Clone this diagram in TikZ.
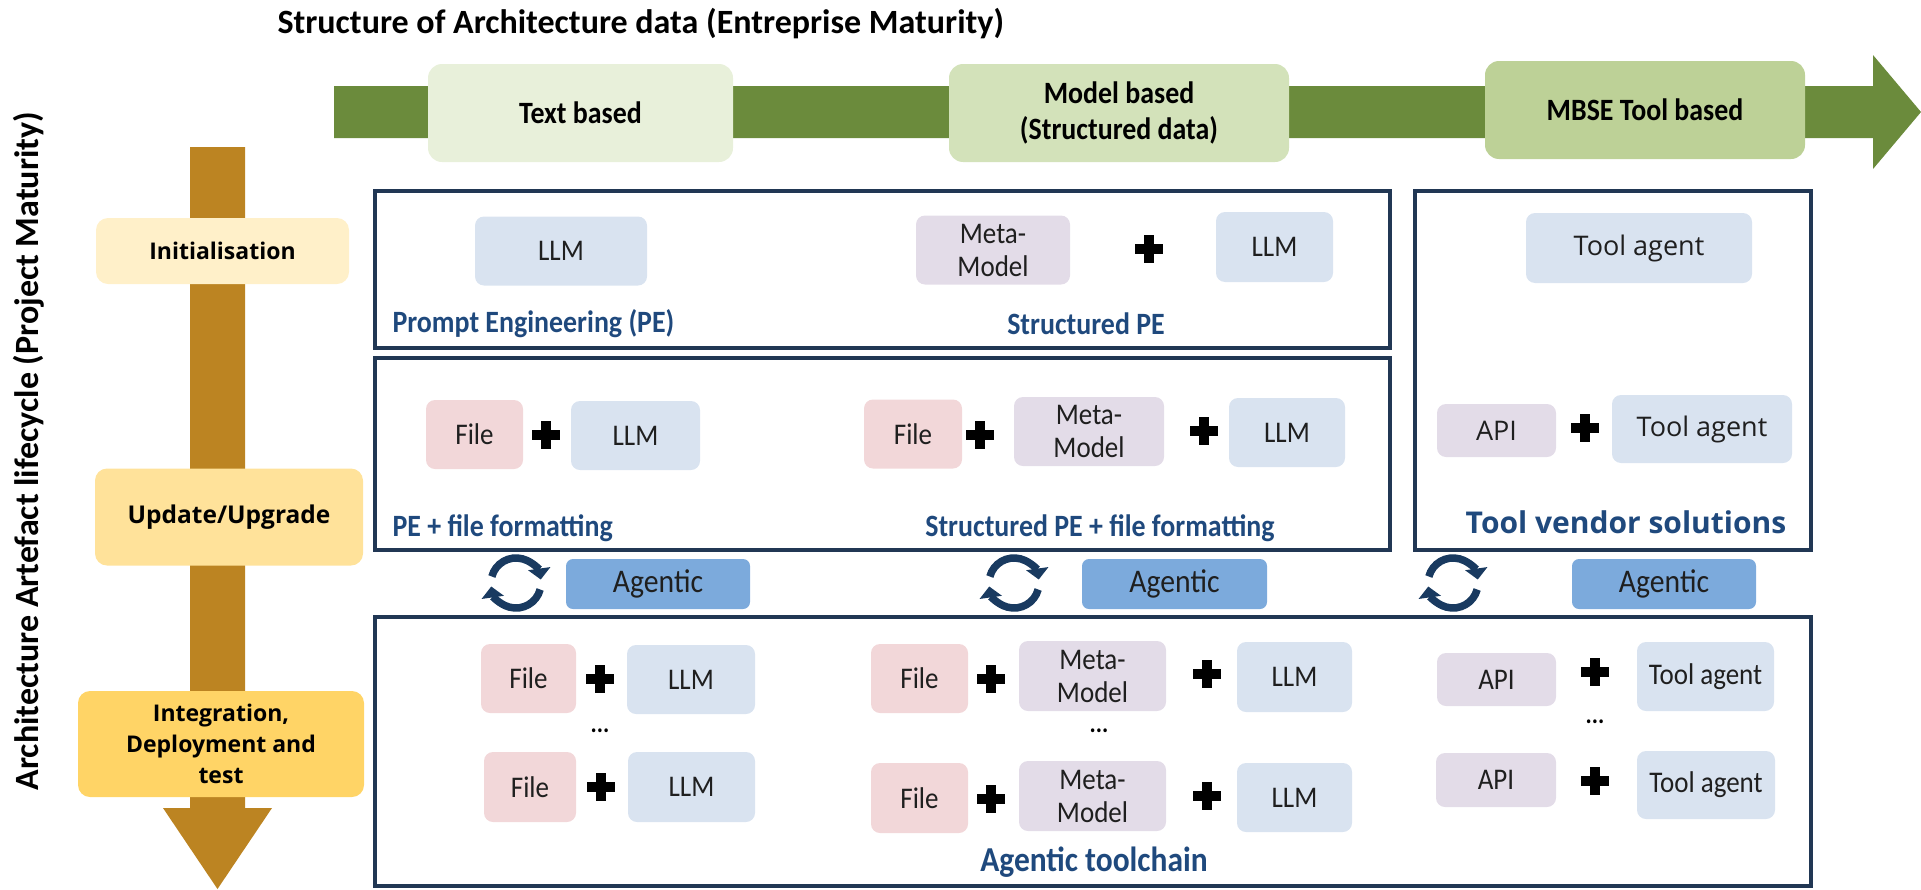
\documentclass[tikz,border=0pt]{standalone}
\usepackage{fontspec}
\usepackage{tikz}
\usetikzlibrary{arrows.meta, positioning, calc}
\setmainfont{Carlito}
\newfontfamily\narrowfont[FakeStretch=0.9]{Carlito}
\newfontfamily\widefont{Open Sans}
\definecolor{stagegreen}{RGB}{107,139,60}
\definecolor{stagelight}{RGB}{232,240,218}
\definecolor{stagemid}{RGB}{211,226,186}
\definecolor{stagedark}{RGB}{189,209,151}
\definecolor{phasebrown}{RGB}{188,132,34}
\definecolor{phaselight}{RGB}{255,240,201}
\definecolor{phasemid}{RGB}{255,226,154}
\definecolor{phasedark}{RGB}{255,212,102}
\definecolor{panelnavy}{RGB}{33,55,84}
\definecolor{llmblue}{RGB}{217,227,240}
\definecolor{filepink}{RGB}{242,215,217}
\definecolor{metalilac}{RGB}{227,220,232}
\definecolor{agenticblue}{RGB}{124,170,220}
\definecolor{labelblue}{RGB}{31,73,125}
\definecolor{cyclenavy}{RGB}{25,58,96}

\tikzset{
    panel/.style={draw=panelnavy, line width=3.5pt},
    stagebox/.style={rectangle, rounded corners=14pt, align=center, inner sep=0pt,
        font=\narrowfont\bfseries\fontsize{31}{36}\selectfont},
    phasebox/.style={rectangle, rounded corners=12pt, align=center, inner sep=0pt,
        font=\widefont\bfseries\fontsize{23}{31}\selectfont},
    tile/.style={rectangle, rounded corners=9pt, align=center, inner sep=0pt,
        text=black!88, font=\narrowfont\fontsize{30}{33}\selectfont},
    widetile/.style={tile, font=\widefont\fontsize{27}{30}\selectfont},
    agentic/.style={tile, fill=agenticblue, rounded corners=7pt, font=\narrowfont\fontsize{33}{33}\selectfont},
    boxsize/.style 2 args={minimum width=#1, minimum height=#2},
    bluelabel/.style={text=labelblue, font=\narrowfont\bfseries\fontsize{31}{34}\selectfont},
    dotsnode/.style={font=\narrowfont\bfseries\fontsize{26}{26}\selectfont},
    crossicon/.pic={
        \fill[black] (-5,-14) rectangle (5,14);
        \fill[black] (-14,-5) rectangle (14,5);
    },
    cycleicon/.pic={
        \begin{scope}[yscale=-1]
            \draw[cyclenavy, line width=7.5pt, -{Triangle[length=11pt,width=22pt]}]
                (165:25) arc[start angle=165, end angle=8, radius=25];
            \draw[cyclenavy, line width=7.5pt, -{Triangle[length=11pt,width=22pt]}]
                (-15:25) arc[start angle=-15, end angle=-172, radius=25];
        \end{scope}
    }
}

\begin{document}
\begin{tikzpicture}[x=1pt, y=-1pt]
        \useasboundingbox (0,0) rectangle (1921,889);

        % axes
        \node[anchor=west, font=\bfseries\fontsize{34}{38}\selectfont] (title) at (274,24)
            {Structure of Architecture data (Entreprise Maturity)};
        \fill[stagegreen] (334,86) -- (1873,86) -- (1873,55) -- (1921,112) -- (1873,169)
            -- (1873,138) -- (334,138) -- cycle;
        \node[rotate=90, font=\bfseries\fontsize{34}{38}\selectfont] (lifecycle) at (29,451)
            {Architecture Artefact lifecycle (Project Maturity)};
        \fill[phasebrown] (190,147) -- (245,147) -- (245,808) -- (272,808) -- (217.5,889)
            -- (163,808) -- (190,808) -- cycle;

        \node[stagebox, fill=stagelight, boxsize={305}{98}] (textbased) at (580.5,113) {Text based};
        \node[stagebox, fill=stagemid, boxsize={340}{98}] (modelbased) at (1119,113) {Model based\\(Structured data)};
        \node[stagebox, fill=stagedark, boxsize={320}{98}] (toolbased) at (1645,110) {MBSE Tool based};

        \node[phasebox, fill=phaselight, boxsize={253}{66}] (init) at (222.5,251) {Initialisation};
        \node[phasebox, fill=phasemid, boxsize={268}{97}, font=\widefont\bfseries\fontsize{24.5}{31}\selectfont]
            (update) at (229,517) {Update/Upgrade};
        \node[phasebox, fill=phasedark, boxsize={286}{106}] (integ) at (221,744) {Integration,\\Deployment and\\test};

        % panels
        \draw[panel] (375,191) rectangle (1390,348);
        \draw[panel] (375,358) rectangle (1390,550);
        \draw[panel] (1415,191) rectangle (1811,550);
        \draw[panel] (375,617) rectangle (1811,886);

        % initialisation
        \node[tile, fill=llmblue, boxsize={172}{69}] (llmA) at (561,251) {LLM};
        \node[tile, fill=metalilac, boxsize={154}{69}] (metaA) at (993,250) {Meta-\\Model};
        \pic (plusA) at (1149,249) {crossicon};
        \node[tile, fill=llmblue, boxsize={117}{70}] (llmB) at (1274.5,247) {LLM};
        \node[bluelabel, anchor=west] (pe) at (389,324) {Prompt Engineering (PE)};
        \node[bluelabel] (spe) at (1086,324) {Structured PE};

        % update
        \node[tile, fill=filepink, boxsize={97}{69}] (fileA) at (474.5,434.5) {File};
        \pic (plusB) at (546,435) {crossicon};
        \node[tile, fill=llmblue, boxsize={129}{69}] (llmC) at (635.5,435.5) {LLM};
        \node[bluelabel, anchor=west] (pefile) at (389,528) {PE + file formatting};
        \node[tile, fill=filepink, boxsize={98}{69}] (fileB) at (913,434) {File};
        \pic (plusC) at (980,435) {crossicon};
        \node[tile, fill=metalilac, boxsize={150}{69}] (metaB) at (1089,431.5) {Meta-\\Model};
        \pic (plusD) at (1204,431) {crossicon};
        \node[tile, fill=llmblue, boxsize={116}{69}] (llmD) at (1287,432.5) {LLM};
        \node[bluelabel] (spefile) at (1100,528) {Structured PE + file formatting};

        % vendor
        \node[widetile, fill=llmblue, boxsize={226}{70}] (toolA) at (1639,248) {Tool agent};
        \node[widetile, fill=metalilac, boxsize={119}{53}] (apiA) at (1496.5,430.5) {API};
        \pic (plusE) at (1585,428) {crossicon};
        \node[widetile, fill=llmblue, boxsize={180}{68}] (toolB) at (1702,429) {Tool agent};
        \node[text=labelblue, font=\widefont\bfseries\fontsize{30}{34}\selectfont] (vendor) at (1626,522)
            {Tool vendor solutions};

        % agentic row
        \pic (cycA) at (516,583) {cycleicon};
        \node[agentic, boxsize={184}{50}] (agA) at (658,584) {Agentic};
        \pic (cycB) at (1014,583) {cycleicon};
        \node[agentic, boxsize={185}{50}] (agB) at (1174.5,584) {Agentic};
        \pic (cycC) at (1453,583) {cycleicon};
        \node[agentic, boxsize={184}{50}] (agC) at (1664,584) {Agentic};

        % toolchain
        \node[tile, fill=filepink, boxsize={95}{69}] (fileC) at (528.5,678.5) {File};
        \pic (plusF) at (600,679) {crossicon};
        \node[tile, fill=llmblue, boxsize={128}{69}] (llmE) at (691,679.5) {LLM};
        \node[dotsnode] (dotsA) at (600,731) {...};
        \node[tile, fill=filepink, boxsize={92}{70}] (fileD) at (530,787) {File};
        \pic (plusG) at (601,787) {crossicon};
        \node[tile, fill=llmblue, boxsize={127}{70}] (llmF) at (691.5,787) {LLM};

        \node[tile, fill=filepink, boxsize={97}{69}] (fileE) at (919.5,678.5) {File};
        \pic (plusH) at (991,679) {crossicon};
        \node[tile, fill=metalilac, boxsize={147}{70}] (metaC) at (1092.5,676) {Meta-\\Model};
        \pic (plusI) at (1207,674) {crossicon};
        \node[tile, fill=llmblue, boxsize={115}{70}] (llmG) at (1294.5,677) {LLM};
        \node[dotsnode] (dotsB) at (1099,731) {...};
        \node[tile, fill=filepink, boxsize={97}{70}] (fileF) at (919.5,798) {File};
        \pic (plusJ) at (991,799) {crossicon};
        \node[tile, fill=metalilac, boxsize={147}{70}] (metaD) at (1092.5,796) {Meta-\\Model};
        \pic (plusK) at (1207,796) {crossicon};
        \node[tile, fill=llmblue, boxsize={115}{69}] (llmH) at (1294.5,797.5) {LLM};
        \node[bluelabel, font=\narrowfont\bfseries\fontsize{35}{38}\selectfont] (toolchain) at (1094,862) {Agentic toolchain};

        \node[tile, fill=metalilac, boxsize={119}{53}] (apiB) at (1496.5,679.5) {API};
        \pic (plusL) at (1595,672) {crossicon};
        \node[tile, fill=llmblue, boxsize={137}{69}] (toolC) at (1705.5,676.5) {Tool agent};
        \node[dotsnode] (dotsC) at (1595,722) {...};
        \node[tile, fill=metalilac, boxsize={120}{54}] (apiC) at (1496,780) {API};
        \pic (plusM) at (1595,781) {crossicon};
        \node[tile, fill=llmblue, boxsize={138}{68}] (toolD) at (1706,785) {Tool agent};
\end{tikzpicture}
\end{document}
